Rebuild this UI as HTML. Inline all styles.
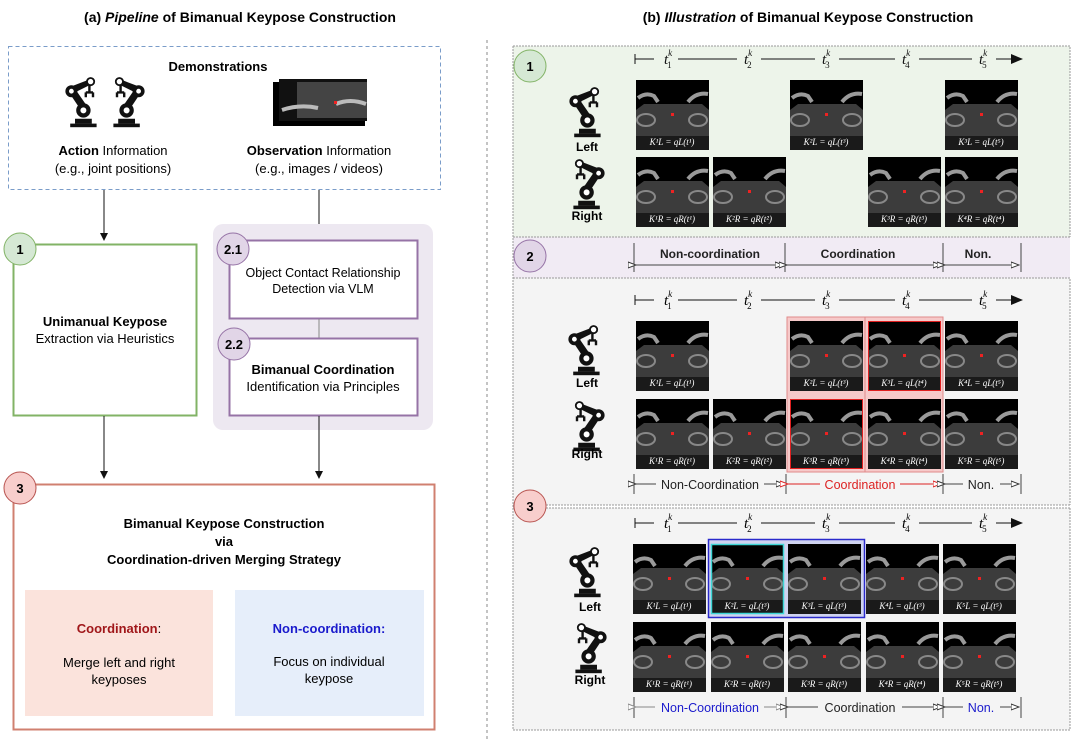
<!DOCTYPE html>
<html><head><meta charset="utf-8"><style>
html,body{margin:0;padding:0;background:#fff;}
svg{display:block;font-family:"Liberation Sans",sans-serif;}
</style></head><body>
<svg width="1080" height="746" viewBox="0 0 1080 746" xmlns="http://www.w3.org/2000/svg">
<defs>
<marker id="ah" markerWidth="8" markerHeight="8" refX="7" refY="4" orient="auto" markerUnits="userSpaceOnUse"><path d="M0,0 L8,4 L0,8 z" fill="#111"/></marker>
<marker id="ahb" markerWidth="12" markerHeight="10" refX="11" refY="5" orient="auto" markerUnits="userSpaceOnUse"><path d="M0,0 L12,5 L0,10 z" fill="#111"/></marker>
<marker id="oa" markerWidth="9" markerHeight="8" refX="8" refY="4" orient="auto" markerUnits="userSpaceOnUse"><path d="M0,1 L8,4 L0,7 z" fill="#fff" stroke="#333" stroke-width="1"/></marker>
<marker id="oar" markerWidth="9" markerHeight="8" refX="8" refY="4" orient="auto" markerUnits="userSpaceOnUse"><path d="M0,1 L8,4 L0,7 z" fill="#fff" stroke="#d22" stroke-width="1"/></marker>
<marker id="oag" markerWidth="9" markerHeight="8" refX="8" refY="4" orient="auto" markerUnits="userSpaceOnUse"><path d="M0,1 L8,4 L0,7 z" fill="#fff" stroke="#888" stroke-width="1"/></marker>
<g id="img">
<rect width="73" height="70" fill="#000"/>
<polygon points="8,24 66,24 73,30 73,56 0,56 0,30" fill="#3c3c3c"/>
<path d="M2,18 Q10,12 18,16 L22,22 M52,22 Q60,12 72,14" stroke="#9a9a9a" stroke-width="4" fill="none"/>
<ellipse cx="10" cy="40" rx="9" ry="6" fill="none" stroke="#888" stroke-width="2"/>
<ellipse cx="62" cy="40" rx="9" ry="6" fill="none" stroke="#888" stroke-width="2"/>
<rect x="35" y="33" width="3" height="3" fill="#e22"/>
<rect x="0" y="56" width="73" height="14" fill="#1a1a1a"/>
</g>
<g id="bot0">
<rect x="6" y="38" width="22" height="3" fill="#111"/>
<path d="M10,38 L10,34 L24,34 L24,38 z" fill="#111"/>
<circle cx="17" cy="27" r="6" fill="#111"/><circle cx="17" cy="27" r="2.5" fill="#fff"/>
<path d="M13,24 L5,12 L10,9 L19,22 z" fill="#111"/>
<circle cx="7" cy="11" r="5" fill="#111"/><circle cx="7" cy="11" r="2" fill="#fff"/>
<path d="M7,7 L20,2 L22,6 L10,12 z" fill="#111"/>
<circle cx="23" cy="3" r="3" fill="#fff" stroke="#111" stroke-width="1.5"/>
<path d="M22,6 L22,12 M19,12 L25,12 M19,12 L19,16 M25,12 L25,16" stroke="#111" stroke-width="2" fill="none"/>
</g>
<g id="bot"><use href="#bot0" transform="translate(-3,-4) scale(1.2)"/></g>
</defs>

<text x="240" y="22" text-anchor="middle" font-size="14" font-weight="bold">(a) <tspan font-style="italic">Pipeline</tspan> of Bimanual Keypose Construction</text>
<text x="808" y="22" text-anchor="middle" font-size="14" font-weight="bold">(b) <tspan font-style="italic">Illustration</tspan> of Bimanual Keypose Construction</text>
<line x1="487" y1="40" x2="487" y2="740" stroke="#888" stroke-dasharray="3,3"/>

<rect x="8.5" y="46.5" width="432" height="143" fill="none" stroke="#7a9cc9" stroke-dasharray="4,3"/>
<text x="218" y="71" text-anchor="middle" font-size="13" font-weight="bold">Demonstrations</text>
<use href="#bot" x="66" y="82"/>
<use href="#bot" transform="translate(144,82) scale(-1,1)"/>
<g>
<rect x="273" y="82" width="92" height="44" fill="#000"/>
<rect x="279" y="79" width="88" height="42" fill="#111"/>
<rect x="297" y="82" width="70" height="36" fill="#444"/>
<path d="M282,110 Q300,104 318,108 M336,104 Q350,98 366,104" stroke="#bbb" stroke-width="4" fill="none"/>
<rect x="334" y="101" width="3" height="3" fill="#e22"/>
</g>
<text x="113" y="155" text-anchor="middle" font-size="13"><tspan font-weight="bold">Action</tspan> Information</text>
<text x="113" y="173" text-anchor="middle" font-size="13">(e.g., joint positions)</text>
<text x="319" y="155" text-anchor="middle" font-size="13"><tspan font-weight="bold">Observation</tspan> Information</text>
<text x="319" y="173" text-anchor="middle" font-size="13">(e.g., images / videos)</text>

<line x1="104" y1="190" x2="104" y2="240" stroke="#111" marker-end="url(#ah)"/>
<line x1="319" y1="190" x2="319" y2="240" stroke="#111" marker-end="url(#ah)"/>

<rect x="13.5" y="244.5" width="183" height="171" fill="#fff" stroke="#82b366" stroke-width="2"/>
<text x="105" y="326" text-anchor="middle" font-size="13" font-weight="bold">Unimanual Keypose</text>
<text x="105" y="343" text-anchor="middle" font-size="13">Extraction via Heuristics</text>
<circle cx="20" cy="249" r="16" fill="#d5e8d4" stroke="#82b366"/>
<text x="20" y="254" text-anchor="middle" font-size="13" font-weight="bold">1</text>

<rect x="213" y="224" width="220" height="206" rx="10" fill="#ede8f1"/>
<rect x="229.5" y="240.5" width="188" height="78" fill="#fff" stroke="#9673a6" stroke-width="2"/>
<text x="323" y="277" text-anchor="middle" font-size="12.5">Object Contact Relationship</text>
<text x="323" y="293" text-anchor="middle" font-size="12.5">Detection via VLM</text>
<line x1="319" y1="319" x2="319" y2="338" stroke="#888"/>
<rect x="229.5" y="338.5" width="188" height="77" fill="#fff" stroke="#9673a6" stroke-width="2"/>
<text x="323" y="374" text-anchor="middle" font-size="13" font-weight="bold">Bimanual Coordination</text>
<text x="323" y="391" text-anchor="middle" font-size="13">Identification via Principles</text>
<circle cx="233" cy="249" r="16" fill="#e1d5e7" stroke="#9673a6"/>
<text x="233" y="254" text-anchor="middle" font-size="13" font-weight="bold">2.1</text>
<circle cx="234" cy="344" r="16" fill="#e1d5e7" stroke="#9673a6"/>
<text x="234" y="349" text-anchor="middle" font-size="13" font-weight="bold">2.2</text>

<line x1="104" y1="416" x2="104" y2="478" stroke="#111" marker-end="url(#ah)"/>
<line x1="319" y1="416" x2="319" y2="478" stroke="#111" marker-end="url(#ah)"/>

<rect x="13.5" y="484.5" width="421" height="245" fill="#fff" stroke="#d08070" stroke-width="2"/>
<text x="224" y="528" text-anchor="middle" font-size="13" font-weight="bold">Bimanual Keypose Construction</text>
<text x="224" y="546" text-anchor="middle" font-size="13" font-weight="bold">via</text>
<text x="224" y="564" text-anchor="middle" font-size="13" font-weight="bold">Coordination-driven Merging Strategy</text>
<rect x="25" y="590" width="188" height="126" fill="#fbe3dc"/>
<text x="119" y="633" text-anchor="middle" font-size="13"><tspan font-weight="bold" fill="#a0171a">Coordination</tspan>:</text>
<text x="119" y="667" text-anchor="middle" font-size="13">Merge left and right</text>
<text x="119" y="684" text-anchor="middle" font-size="13">keyposes</text>
<rect x="235" y="590" width="189" height="126" fill="#e6eefa"/>
<text x="329" y="633" text-anchor="middle" font-size="13" font-weight="bold" fill="#1a1acc">Non-coordination:</text>
<text x="329" y="666" text-anchor="middle" font-size="13">Focus on individual</text>
<text x="329" y="683" text-anchor="middle" font-size="13">keypose</text>
<circle cx="20" cy="488" r="16" fill="#f8cecc" stroke="#b85450"/>
<text x="20" y="493" text-anchor="middle" font-size="13" font-weight="bold">3</text>

<rect x="513" y="46" width="557" height="191" fill="#edf4ea"/>
<rect x="513" y="237" width="557" height="41" fill="#f1ebf4"/>
<rect x="513" y="278" width="557" height="227" fill="#f4f4f4"/>
<rect x="513" y="508" width="557" height="222" fill="#f4f4f4"/>
<g stroke="#999" stroke-dasharray="2,1" fill="none">
<path d="M513,46 H1070 V237 M513,46 V730 H1070 V508 M513,237 H1070 M513,278 H1070 V505 M513,505 H1070 M513,508 H1070"/>
</g>

<circle cx="530" cy="66" r="16" fill="#d5e8d4" stroke="#82b366"/>
<text x="530" y="71" text-anchor="middle" font-size="13" font-weight="bold">1</text>
<circle cx="530" cy="256" r="16" fill="#e1d5e7" stroke="#9673a6"/>
<text x="530" y="261" text-anchor="middle" font-size="13" font-weight="bold">2</text>
<circle cx="530" cy="506" r="16" fill="#f8cecc" stroke="#b85450"/>
<text x="530" y="511" text-anchor="middle" font-size="13" font-weight="bold">3</text>

<g font-family="Liberation Serif,serif" font-style="italic" font-size="15">
<g>
<line x1="635" y1="59" x2="1022" y2="59" stroke="#111" marker-end="url(#ahb)"/>
<line x1="635" y1="54" x2="635" y2="64" stroke="#111"/>
<g fill="#111">
<rect x="654" y="50" width="24" height="16" fill="#edf4ea"/><text x="664" y="64">t<tspan font-size="9" dy="-8">k</tspan><tspan font-size="9" font-style="normal" dx="-5" dy="12">1</tspan></text>
<rect x="737" y="50" width="24" height="16" fill="#edf4ea"/><text x="744" y="64">t<tspan font-size="9" dy="-8">k</tspan><tspan font-size="9" font-style="normal" dx="-5" dy="12">2</tspan></text>
<rect x="815" y="50" width="24" height="16" fill="#edf4ea"/><text x="822" y="64">t<tspan font-size="9" dy="-8">k</tspan><tspan font-size="9" font-style="normal" dx="-5" dy="12">3</tspan></text>
<rect x="895" y="50" width="24" height="16" fill="#edf4ea"/><text x="902" y="64">t<tspan font-size="9" dy="-8">k</tspan><tspan font-size="9" font-style="normal" dx="-5" dy="12">4</tspan></text>
<rect x="972" y="50" width="24" height="16" fill="#edf4ea"/><text x="979" y="64">t<tspan font-size="9" dy="-8">k</tspan><tspan font-size="9" font-style="normal" dx="-5" dy="12">5</tspan></text>
</g></g>
<g transform="translate(0,241)">
<line x1="635" y1="59" x2="1022" y2="59" stroke="#111" marker-end="url(#ahb)"/>
<line x1="635" y1="54" x2="635" y2="64" stroke="#111"/>
<rect x="654" y="50" width="24" height="16" fill="#f4f4f4"/><text x="664" y="64">t<tspan font-size="9" dy="-8">k</tspan><tspan font-size="9" font-style="normal" dx="-5" dy="12">1</tspan></text>
<rect x="737" y="50" width="24" height="16" fill="#f4f4f4"/><text x="744" y="64">t<tspan font-size="9" dy="-8">k</tspan><tspan font-size="9" font-style="normal" dx="-5" dy="12">2</tspan></text>
<rect x="815" y="50" width="24" height="16" fill="#f4f4f4"/><text x="822" y="64">t<tspan font-size="9" dy="-8">k</tspan><tspan font-size="9" font-style="normal" dx="-5" dy="12">3</tspan></text>
<rect x="895" y="50" width="24" height="16" fill="#f4f4f4"/><text x="902" y="64">t<tspan font-size="9" dy="-8">k</tspan><tspan font-size="9" font-style="normal" dx="-5" dy="12">4</tspan></text>
<rect x="972" y="50" width="24" height="16" fill="#f4f4f4"/><text x="979" y="64">t<tspan font-size="9" dy="-8">k</tspan><tspan font-size="9" font-style="normal" dx="-5" dy="12">5</tspan></text>
</g>
<g transform="translate(0,464)">
<line x1="635" y1="59" x2="1022" y2="59" stroke="#111" marker-end="url(#ahb)"/>
<line x1="635" y1="54" x2="635" y2="64" stroke="#111"/>
<rect x="654" y="50" width="24" height="16" fill="#f4f4f4"/><text x="664" y="64">t<tspan font-size="9" dy="-8">k</tspan><tspan font-size="9" font-style="normal" dx="-5" dy="12">1</tspan></text>
<rect x="737" y="50" width="24" height="16" fill="#f4f4f4"/><text x="744" y="64">t<tspan font-size="9" dy="-8">k</tspan><tspan font-size="9" font-style="normal" dx="-5" dy="12">2</tspan></text>
<rect x="815" y="50" width="24" height="16" fill="#f4f4f4"/><text x="822" y="64">t<tspan font-size="9" dy="-8">k</tspan><tspan font-size="9" font-style="normal" dx="-5" dy="12">3</tspan></text>
<rect x="895" y="50" width="24" height="16" fill="#f4f4f4"/><text x="902" y="64">t<tspan font-size="9" dy="-8">k</tspan><tspan font-size="9" font-style="normal" dx="-5" dy="12">4</tspan></text>
<rect x="972" y="50" width="24" height="16" fill="#f4f4f4"/><text x="979" y="64">t<tspan font-size="9" dy="-8">k</tspan><tspan font-size="9" font-style="normal" dx="-5" dy="12">5</tspan></text>
</g>
</g>

<g font-size="12" font-weight="bold" text-anchor="middle">
<use href="#bot" x="570" y="92"/><text x="587" y="151">Left</text>
<use href="#bot" transform="translate(604,164) scale(-1,1)"/><text x="587" y="220">Right</text>
<use href="#bot" x="569" y="330"/><text x="587" y="387">Left</text>
<use href="#bot" transform="translate(604,406) scale(-1,1)"/><text x="587" y="458">Right</text>
<use href="#bot" x="570" y="552"/><text x="590" y="611">Left</text>
<use href="#bot" transform="translate(606,628) scale(-1,1)"/><text x="590" y="684">Right</text>
</g>

<g font-family="Liberation Serif,serif" font-style="italic" font-size="9" fill="#fff" text-anchor="middle">
<use href="#img" x="636" y="80"/><text x="672" y="145">K¹L = qL(t¹)</text>
<use href="#img" x="790" y="80"/><text x="826" y="145">K²L = qL(t³)</text>
<use href="#img" x="945" y="80"/><text x="981" y="145">K³L = qL(t⁵)</text>
<use href="#img" x="636" y="157"/><text x="672" y="222">K¹R = qR(t¹)</text>
<use href="#img" x="713" y="157"/><text x="749" y="222">K²R = qR(t²)</text>
<use href="#img" x="868" y="157"/><text x="904" y="222">K³R = qR(t³)</text>
<use href="#img" x="945" y="157"/><text x="981" y="222">K⁴R = qR(t⁴)</text>
</g>

<g stroke="#444" fill="none">
<line x1="634" y1="243" x2="634" y2="272"/><line x1="785" y1="243" x2="785" y2="272"/>
<line x1="943" y1="243" x2="943" y2="272"/><line x1="1021" y1="243" x2="1021" y2="272"/>
<line x1="636" y1="265" x2="783" y2="265" marker-end="url(#oa)" marker-start="url(#oa)"/>
<line x1="787" y1="265" x2="941" y2="265" marker-end="url(#oa)" marker-start="url(#oa)"/>
<line x1="945" y1="265" x2="1019" y2="265" marker-end="url(#oa)" marker-start="url(#oa)"/>
</g>
<g font-size="12" font-weight="bold" text-anchor="middle" fill="#222">
<text x="710" y="258">Non-coordination</text><text x="858" y="258">Coordination</text><text x="978" y="258">Non.</text>
</g>

<rect x="787" y="317" width="156" height="155" fill="#f6c9c9" stroke="#e08a8a"/>
<line x1="865" y1="317" x2="865" y2="472" stroke="#e08a8a"/>
<g font-family="Liberation Serif,serif" font-style="italic" font-size="9" fill="#fff" text-anchor="middle">
<use href="#img" x="636" y="321"/><text x="672" y="386">K¹L = qL(t¹)</text>
<use href="#img" x="790" y="321"/><text x="826" y="386">K²L = qL(t³)</text>
<use href="#img" x="868" y="321"/><text x="904" y="386">K³L = qL(t⁴)</text>
<use href="#img" x="945" y="321"/><text x="981" y="386">K⁴L = qL(t⁵)</text>
<use href="#img" x="636" y="399"/><text x="672" y="464">K¹R = qR(t¹)</text>
<use href="#img" x="713" y="399"/><text x="749" y="464">K²R = qR(t²)</text>
<use href="#img" x="790" y="399"/><text x="826" y="464">K³R = qR(t³)</text>
<use href="#img" x="868" y="399"/><text x="904" y="464">K⁴R = qR(t⁴)</text>
<use href="#img" x="945" y="399"/><text x="981" y="464">K⁵R = qR(t⁵)</text>
</g>
<rect x="868.5" y="321.5" width="72" height="69" fill="none" stroke="#e02020"/>
<rect x="790.5" y="399.5" width="72" height="69" fill="none" stroke="#e02020"/>
<g stroke="#444" fill="none">
<line x1="634" y1="474" x2="634" y2="494"/><line x1="786" y1="474" x2="786" y2="494"/>
<line x1="943" y1="474" x2="943" y2="494"/><line x1="1021" y1="474" x2="1021" y2="494"/>
<line x1="636" y1="484" x2="656" y2="484" marker-start="url(#oa)"/><line x1="764" y1="484" x2="784" y2="484" marker-end="url(#oa)"/>
<line x1="788" y1="484" x2="820" y2="484" stroke="#d22" marker-start="url(#oar)"/><line x1="900" y1="484" x2="941" y2="484" stroke="#d22" marker-end="url(#oar)"/>
<line x1="945" y1="484" x2="963" y2="484" marker-start="url(#oa)"/><line x1="1000" y1="484" x2="1019" y2="484" marker-end="url(#oa)"/>
</g>
<g font-size="12.5" text-anchor="middle">
<text x="710" y="489" fill="#222">Non-Coordination</text><text x="860" y="489" fill="#d22">Coordination</text><text x="981" y="489" fill="#222">Non.</text>
</g>

<rect x="708.5" y="539.5" width="156" height="78" fill="#cfd3f0" stroke="#2a2acc" stroke-width="1.5"/>
<g font-family="Liberation Serif,serif" font-style="italic" font-size="9" fill="#fff" text-anchor="middle">
<use href="#img" x="633" y="544"/><text x="669" y="609">K¹L = qL(t¹)</text>
<use href="#img" x="711" y="544"/><text x="747" y="609">K²L = qL(t³)</text>
<use href="#img" x="788" y="544"/><text x="824" y="609">K³L = qL(t³)</text>
<use href="#img" x="866" y="544"/><text x="902" y="609">K⁴L = qL(t³)</text>
<use href="#img" x="943" y="544"/><text x="979" y="609">K⁵L = qL(t⁵)</text>
<use href="#img" x="633" y="622"/><text x="669" y="687">K¹R = qR(t¹)</text>
<use href="#img" x="711" y="622"/><text x="747" y="687">K²R = qR(t²)</text>
<use href="#img" x="788" y="622"/><text x="824" y="687">K³R = qR(t³)</text>
<use href="#img" x="866" y="622"/><text x="902" y="687">K⁴R = qR(t⁴)</text>
<use href="#img" x="943" y="622"/><text x="979" y="687">K⁵R = qR(t⁵)</text>
</g>
<rect x="711.5" y="544.5" width="72" height="69" fill="none" stroke="#3dd6d6" stroke-width="1.5"/>
<g stroke="#444" fill="none">
<line x1="634" y1="697" x2="634" y2="718"/><line x1="786" y1="697" x2="786" y2="718"/>
<line x1="943" y1="697" x2="943" y2="718"/><line x1="1021" y1="697" x2="1021" y2="718"/>
<line x1="636" y1="707" x2="655" y2="707" stroke="#888" marker-start="url(#oag)"/><line x1="764" y1="707" x2="784" y2="707" stroke="#888" marker-end="url(#oag)"/>
<line x1="788" y1="707" x2="818" y2="707" marker-start="url(#oa)"/><line x1="902" y1="707" x2="941" y2="707" marker-end="url(#oa)"/>
<line x1="945" y1="707" x2="963" y2="707" marker-start="url(#oa)"/><line x1="1000" y1="707" x2="1019" y2="707" marker-end="url(#oa)"/>
</g>
<g font-size="12.5" text-anchor="middle">
<text x="710" y="712" fill="#1a1acc">Non-Coordination</text><text x="860" y="712" fill="#222">Coordination</text><text x="981" y="712" fill="#1a1acc">Non.</text>
</g>
</svg>
</body></html>
